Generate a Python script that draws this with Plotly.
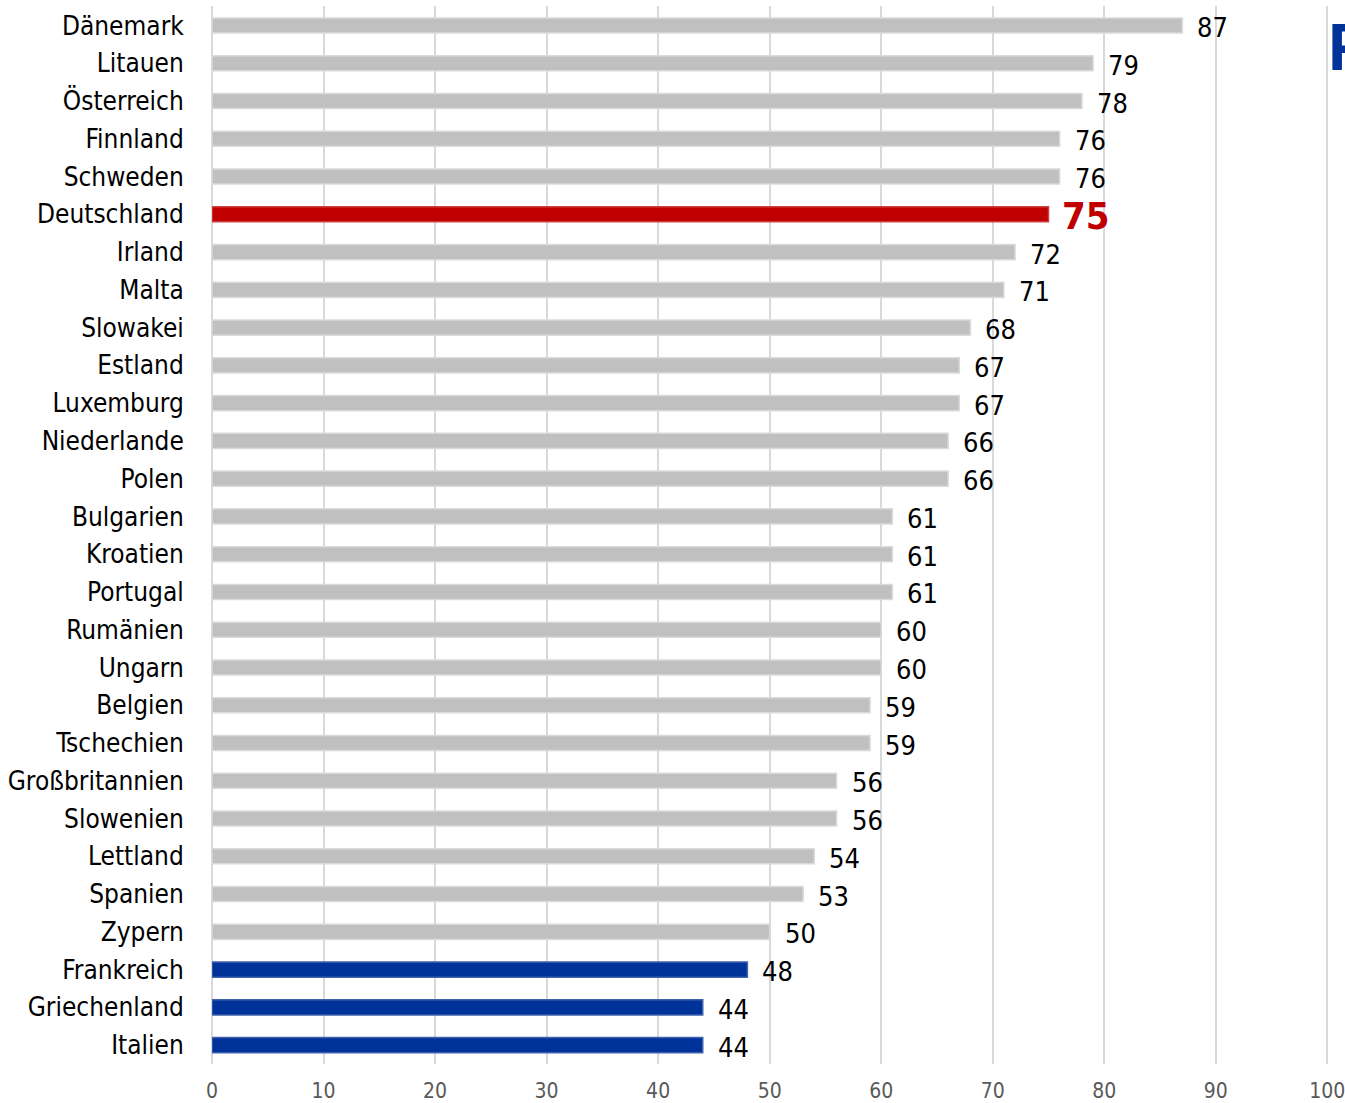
import plotly.graph_objects as go

countries = ["Dänemark", "Litauen", "Österreich", "Finnland", "Schweden", "Deutschland",
             "Irland", "Malta", "Slowakei", "Estland", "Luxemburg", "Niederlande", "Polen",
             "Bulgarien", "Kroatien", "Portugal", "Rumänien", "Ungarn", "Belgien",
             "Tschechien", "Großbritannien", "Slowenien", "Lettland", "Spanien", "Zypern",
             "Frankreich", "Griechenland", "Italien"]
values = [87, 79, 78, 76, 76, 75, 72, 71, 68, 67, 67, 66, 66, 61, 61, 61, 60, 60, 59,
          59, 56, 56, 54, 53, 50, 48, 44, 44]
highlight = {"Deutschland": "red", "Frankreich": "blue", "Griechenland": "blue", "Italien": "blue"}
x_ticks = [0, 10, 20, 30, 40, 50, 60, 70, 80, 90, 100]

GRAY, GRAY_EDGE = "#c0c0c0", "#dadada"
RED, BLUE = "#c00000", "#003399"
FONT = "DejaVu Sans Condensed, Liberation Sans Narrow, Arial Narrow, sans-serif"

fills, edges = [], []
for c in countries:
    kind = highlight.get(c)
    if kind == "red":
        fills.append(RED); edges.append("#d04040")
    elif kind == "blue":
        fills.append(BLUE); edges.append("#4060b0")
    else:
        fills.append(GRAY); edges.append(GRAY_EDGE)

fig = go.Figure(go.Bar(
    x=values, y=countries, orientation="h",
    marker=dict(color=fills, line=dict(color=edges, width=1.5)),
    width=0.4, hoverinfo="skip",
))

annotations = []
for c, v in zip(countries, values):
    big = highlight.get(c) == "red"
    annotations.append(dict(
        x=v, y=c, xref="x", yref="y",
        text=("<b>%d</b>" % v) if big else str(v), showarrow=False,
        xanchor="left", yanchor="middle", xshift=11 if big else 13, yshift=-2,
        font=dict(family=FONT, size=38 if big else 27,
                  color=RED if big else "#000000"),
    ))
# large blue heading letter at the right edge of the page
annotations.append(dict(
    x=1.0, y=1.0, xref="paper", yref="paper", text="<b>F</b>", showarrow=False,
    xanchor="left", yanchor="top", xshift=-3, yshift=-2,
    font=dict(family="Liberation Sans, Arial, sans-serif", size=66, color=BLUE),
))

fig.update_layout(
    width=1345, height=1103,
    margin=dict(l=212, r=16, t=6, b=39),
    plot_bgcolor="white", paper_bgcolor="white",
    showlegend=False, bargap=0.6,
    annotations=annotations,
    xaxis=dict(range=[0, 100.15], tickvals=x_ticks, showgrid=True, gridcolor="#d9d9d9",
               gridwidth=2, zeroline=True, zerolinecolor="#d9d9d9", zerolinewidth=2,
               showline=False, ticks="outside", ticklen=8, tickcolor="white",
               automargin=False, ticklabeloverflow="allow",
               tickfont=dict(family=FONT, size=21, color="#595959")),
    yaxis=dict(categoryorder="array", categoryarray=countries, autorange="reversed",
               showgrid=False, showline=False, ticks="outside", ticklen=22,
               tickcolor="white", automargin=False,
               tickfont=dict(family=FONT, size=26, color="#000000")),
)

fig.write_html("out.html")
